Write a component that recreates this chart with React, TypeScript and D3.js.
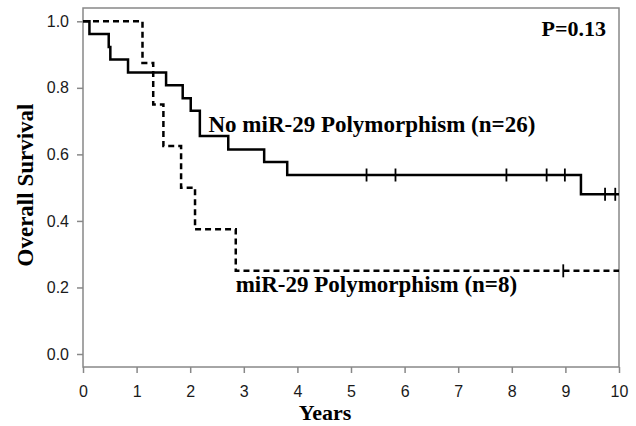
import { useEffect, useRef } from "react";
import * as d3 from "d3";

// Kaplan-Meier steps
const noMirTimes = [0.12, 0.48, 0.51, 0.84, 1.55, 1.86, 2.01, 2.18, 2.71, 3.38, 3.81, 9.29];
const noMirSurv = [0.962, 0.923, 0.885, 0.846, 0.808, 0.769, 0.731, 0.655, 0.615, 0.577, 0.538, 0.48];
const noMirCensor = [5.29, 5.83, 7.9, 8.65, 8.99, 9.74, 9.93];

const mirTimes = [1.11, 1.31, 1.5, 1.83, 2.09, 2.85];
const mirSurv = [0.875, 0.75, 0.625, 0.5, 0.375, 0.25];
const mirCensor = [8.96];

const xTicks = [0, 1, 2, 3, 4, 5, 6, 7, 8, 9, 10];
const yTicks = [0, 0.2, 0.4, 0.6, 0.8, 1.0];

const serif = "'Liberation Serif', 'Times New Roman', serif";
const sans = "'Liberation Sans', Arial, sans-serif";

export default function App() {
  const svgRef = useRef<SVGSVGElement>(null);

  useEffect(() => {
    const svg = d3.select(svgRef.current);
    svg.selectAll("*").remove();

    const width = 636;
    const height = 426;
    const box = { left: 83, right: 619, top: 8, bottom: 367 };

    const x = d3.scaleLinear().domain([0, 10]).range([box.left, box.right]);
    const y = d3.scaleLinear().domain([0, 1]).range([354, 21.3]);

    svg.append("rect").attr("width", width).attr("height", height).attr("fill", "#fff");

    // frame
    svg
      .append("rect")
      .attr("x", box.left)
      .attr("y", box.top)
      .attr("width", box.right - box.left)
      .attr("height", box.bottom - box.top)
      .attr("fill", "none")
      .attr("stroke", "#888")
      .attr("stroke-width", 1.5);

    // axes
    const gx = svg
      .append("g")
      .attr("transform", `translate(0,${box.bottom})`)
      .call(
        d3
          .axisBottom(x)
          .tickValues(xTicks)
          .tickFormat(d3.format("d"))
          .tickSize(6)
          .tickPadding(13)
      );
    const gy = svg
      .append("g")
      .attr("transform", `translate(${box.left},0)`)
      .call(
        d3
          .axisLeft(y)
          .tickValues(yTicks)
          .tickFormat(d3.format(".1f"))
          .tickSize(6)
          .tickPadding(8)
      );
    [gx, gy].forEach((g) => {
      g.select(".domain").remove();
      g.selectAll(".tick line").attr("stroke", "#888").attr("stroke-width", 1.5);
      g.selectAll(".tick text")
        .attr("fill", "#1a1a1a")
        .style("font-family", sans)
        .style("font-size", "16px");
    });

    const line = d3
      .line<[number, number]>()
      .x((d) => x(d[0]))
      .y((d) => y(d[1]))
      .curve(d3.curveStepAfter);

    const steps = (times: number[], surv: number[]): [number, number][] => {
      const pts: [number, number][] = [[0, 1]];
      times.forEach((t, i) => pts.push([t, surv[i]]));
      pts.push([10, surv[surv.length - 1]]);
      return pts;
    };

    const survAt = (times: number[], surv: number[], t: number) => {
      let s = 1;
      times.forEach((tt, i) => {
        if (tt <= t) s = surv[i];
      });
      return s;
    };

    const curves = [
      { times: noMirTimes, surv: noMirSurv, censor: noMirCensor, dash: null },
      { times: mirTimes, surv: mirSurv, censor: mirCensor, dash: "6,4" },
    ];

    curves.forEach((c) => {
      svg
        .append("path")
        .attr("d", line(steps(c.times, c.surv)))
        .attr("fill", "none")
        .attr("stroke", "#000")
        .attr("stroke-width", 2.5)
        .attr("stroke-dasharray", c.dash);

      svg
        .append("g")
        .selectAll("line")
        .data(c.censor)
        .enter()
        .append("line")
        .attr("x1", (d) => x(d))
        .attr("x2", (d) => x(d))
        .attr("y1", (d) => y(survAt(c.times, c.surv, d)) - 6.5)
        .attr("y2", (d) => y(survAt(c.times, c.surv, d)) + 6.5)
        .attr("stroke", "#000")
        .attr("stroke-width", 1.8);
    });

    const label = (txt: string, lx: number, ly: number, size: number, anchor = "start") =>
      svg
        .append("text")
        .attr("x", lx)
        .attr("y", ly)
        .attr("text-anchor", anchor)
        .attr("fill", "#000")
        .style("font-family", serif)
        .style("font-weight", "bold")
        .style("font-size", `${size}px`)
        .text(txt);

    label("No miR-29 Polymorphism (n=26)", 208.5, 131.7, 23);
    label("miR-29 Polymorphism (n=8)", 235.7, 291.7, 23);
    label("P=0.13", 606, 36, 22, "end");
    label("Years", 325, 420, 22, "middle");
    label("Overall Survival", 0, 0, 23, "middle").attr(
      "transform",
      "translate(33,185) rotate(-90)"
    );
  }, []);

  return (
    <div style={{ position: "absolute", left: 0, top: 0 }}>
      <svg ref={svgRef} width={636} height={426} style={{ display: "block" }} />
    </div>
  );
}
